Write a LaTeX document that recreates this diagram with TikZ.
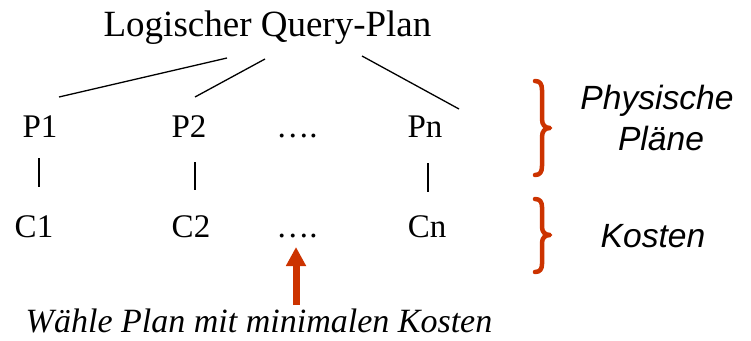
\documentclass[tikz,border=0pt]{standalone}
\usepackage{fontspec}
\setmainfont{Liberation Serif}
\newfontfamily\arialfont{Liberation Sans}
\usetikzlibrary{arrows.meta}
\definecolor{bracered}{RGB}{204,51,0}
\tikzset{
  lbl/.style={anchor=base, inner sep=0pt, font=\fontsize{33}{36}\selectfont},
  ttl/.style={anchor=base, inner sep=0pt, font=\fontsize{37}{40}\selectfont},
  note/.style={anchor=base, inner sep=0pt, font=\fontsize{34}{38}\selectfont\itshape},
  side/.style={anchor=base, inner sep=0pt, font=\arialfont\fontsize{33.6}{36}\selectfont\itshape},
  edge/.style={line width=1.3pt},
  vedge/.style={line width=2pt},
  brace/.style={draw=bracered, line width=4.5pt, line cap=round, line join=round},
  redarrow/.style={draw=bracered, line width=7pt, -{Triangle[width=19pt,length=19pt]}}
}
\begin{document}
\begin{tikzpicture}[x=1pt,y=-1pt]
\useasboundingbox (0,0) rectangle (751,340);
% title
\node[ttl] (title) at (267.5,36) {Logischer Query-Plan};
% plan row
\node[lbl] (p1) at (40,137) {P1};
\node[lbl] (p2) at (189,137) {P2};
\node[lbl] (pd) at (297,137) {….};
\node[lbl] (pn) at (425,137) {Pn};
% cost row
\node[lbl] (c1) at (34,237) {C1};
\node[lbl] (c2) at (191,237) {C2};
\node[lbl] (cd) at (297,237) {….};
\node[lbl] (cn) at (427,237) {Cn};
% connector ends
\coordinate (t1) at (227,58);  \coordinate (e1) at (59,97);
\coordinate (t2) at (265,59);  \coordinate (e2) at (195,97);
\coordinate (t3) at (362,56);  \coordinate (e3) at (459,109);
\draw[edge] (t1) -- (e1);
\draw[edge] (t2) -- (e2);
\draw[edge] (t3) -- (e3);
\coordinate (v1a) at (39,158);  \coordinate (v1b) at (39,187);
\coordinate (v2a) at (195,162); \coordinate (v2b) at (195,190);
\coordinate (vna) at (428,163); \coordinate (vnb) at (428,192);
\draw[vedge] (v1a) -- (v1b);
\draw[vedge] (v2a) -- (v2b);
\draw[vedge] (vna) -- (vnb);
% arrow
\coordinate (abase) at (296,305);
\coordinate (atip) at (296,247);
\draw[redarrow] (abase) -- (atip);
\node[note] (choose) at (259,332) {Wähle Plan mit minimalen Kosten};
% braces
\draw[brace] (535,81) .. controls (540,81) and (542,84) .. (542,90) -- (542,119)
  .. controls (542,125) and (545,128) .. (550,128)
  .. controls (545,128) and (542,131) .. (542,137) -- (542,166)
  .. controls (542,172) and (540,175) .. (535,175);
\draw[brace] (535,199) .. controls (540,199) and (542,202) .. (542,207) -- (542,227)
  .. controls (542,232) and (545,235) .. (550,235)
  .. controls (545,235) and (542,238) .. (542,243) -- (542,264)
  .. controls (542,269) and (540,272) .. (535,272);
% side labels
\node[side] (phys) at (657,109) {Physische};
\node[side] (plaene) at (661,150) {Pläne};
\node[side] (kosten) at (653,247) {Kosten};
\end{tikzpicture}
\end{document}
